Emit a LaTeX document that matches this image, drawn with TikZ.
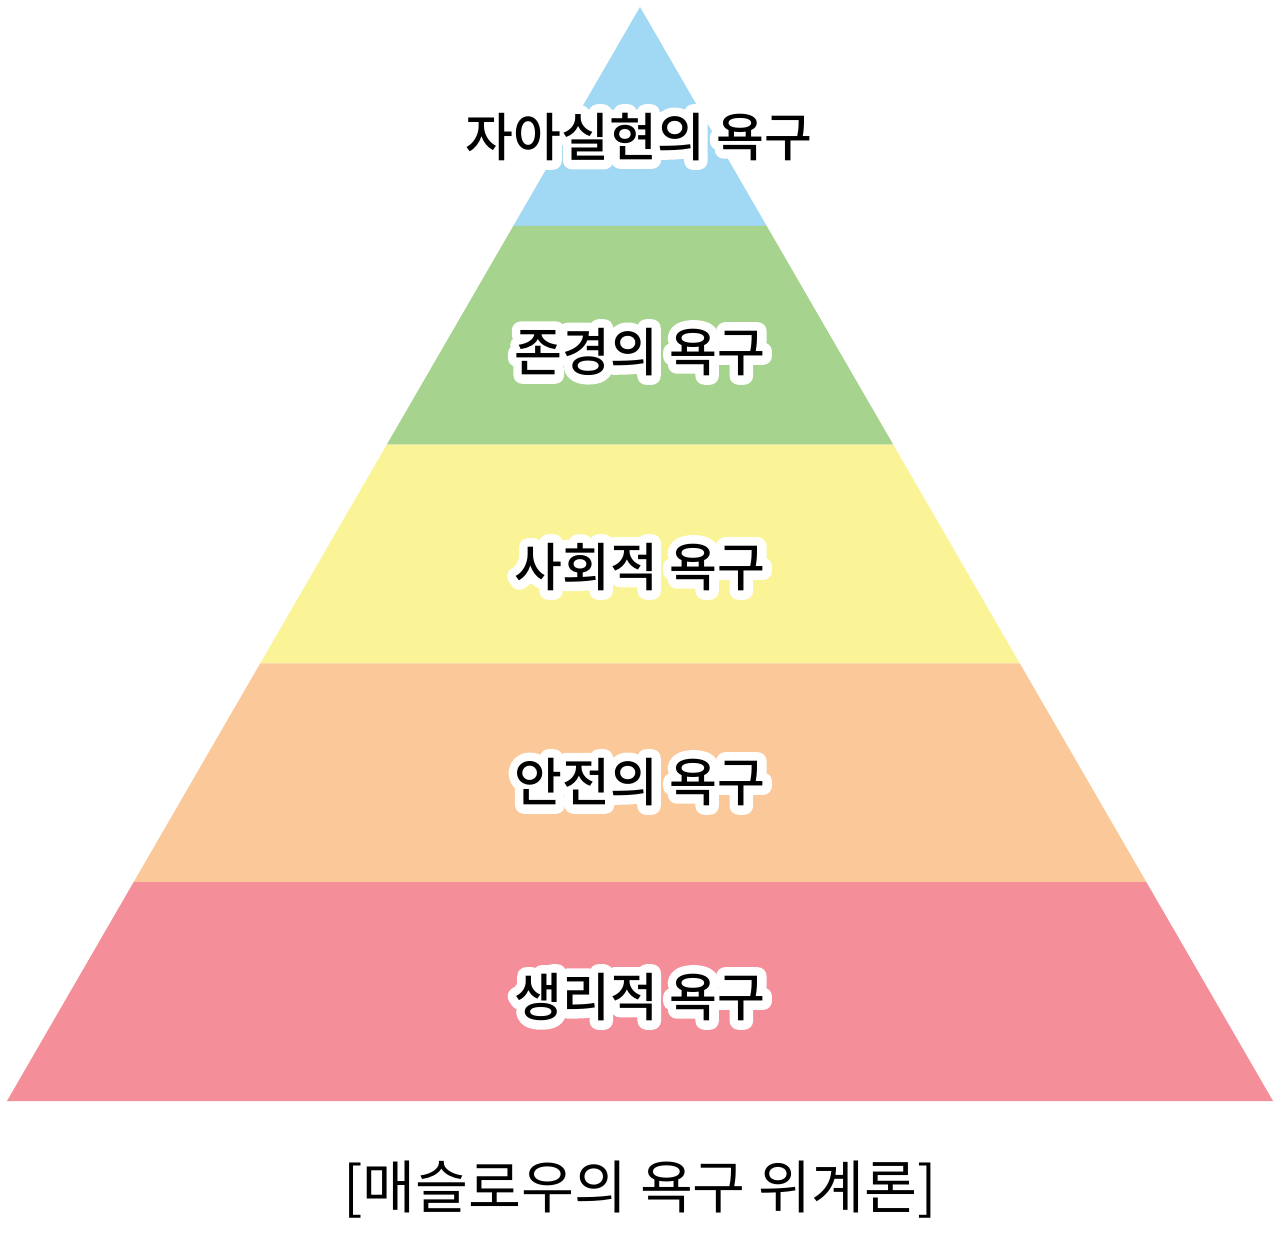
\documentclass[tikz,border=0pt]{standalone}
\usepackage{fontspec}
\setmainfont{Noto Sans CJK KR}
\newfontfamily\lblfont{Noto Sans CJK KR Medium}
\usetikzlibrary{calc}
\definecolor{cblue}{HTML}{A1D8F3}
\definecolor{cgreen}{HTML}{A6D38E}
\definecolor{cyellow}{HTML}{FAF497}
\definecolor{corange}{HTML}{FBC899}
\definecolor{cpink}{HTML}{F48E98}
\newcommand{\outlinetext}[1]{\special{pdf:literal direct 1 Tr 18 w 1 j 1 J}#1\special{pdf:literal direct 0 Tr}}
\tikzset{
  lbl/.style={font=\lblfont\fontsize{52}{56}\selectfont, inner sep=0pt, text=black},
  halo/.style={font=\lblfont\fontsize{52}{56}\selectfont, inner sep=0pt, text=white},
  captext/.style={font=\fontsize{57.5}{62}\selectfont, inner sep=0pt, text=black}
}
\newcommand{\halolabel}[3]{%
  \node[halo] at (#2) {\outlinetext{#3}};
  \node[lbl] (#1) at (#2) {#3};}
\begin{document}
\begin{tikzpicture}[x=1pt,y=-1pt]
\useasboundingbox (0,0) rectangle (1280,1235);
\fill[white] (0,0) rectangle (1280,1235);
\coordinate (apex) at (640,7);
\coordinate (l1) at (513.4,225.8); \coordinate (r1) at (766.6,225.8);
\coordinate (l2) at (386.8,444.6); \coordinate (r2) at (893.2,444.6);
\coordinate (l3) at (260.2,663.4); \coordinate (r3) at (1019.8,663.4);
\coordinate (l4) at (133.6,882.2); \coordinate (r4) at (1146.4,882.2);
\coordinate (l5) at (7,1101); \coordinate (r5) at (1273,1101);
\fill[cblue] (apex) -- (r1) -- (l1) -- cycle;
\fill[cgreen] (l1) -- (r1) -- (r2) -- (l2) -- cycle;
\fill[cyellow] (l2) -- (r2) -- (r3) -- (l3) -- cycle;
\fill[corange] (l3) -- (r3) -- (r4) -- (l4) -- cycle;
\fill[cpink] (l4) -- (r4) -- (r5) -- (l5) -- cycle;
\coordinate (p1) at (639,137);
\coordinate (p2) at (640,352);
\coordinate (p3) at (640,567);
\coordinate (p4) at (640,782);
\coordinate (p5) at (640,997);
\halolabel{t1}{p1}{자아실현의 욕구}
\halolabel{t2}{p2}{존경의 욕구}
\halolabel{t3}{p3}{사회적 욕구}
\halolabel{t4}{p4}{안전의 욕구}
\halolabel{t5}{p5}{생리적 욕구}
\node[captext] (caption) at (640,1190) {[매슬로우의 욕구 위계론]};
\end{tikzpicture}
\end{document}
